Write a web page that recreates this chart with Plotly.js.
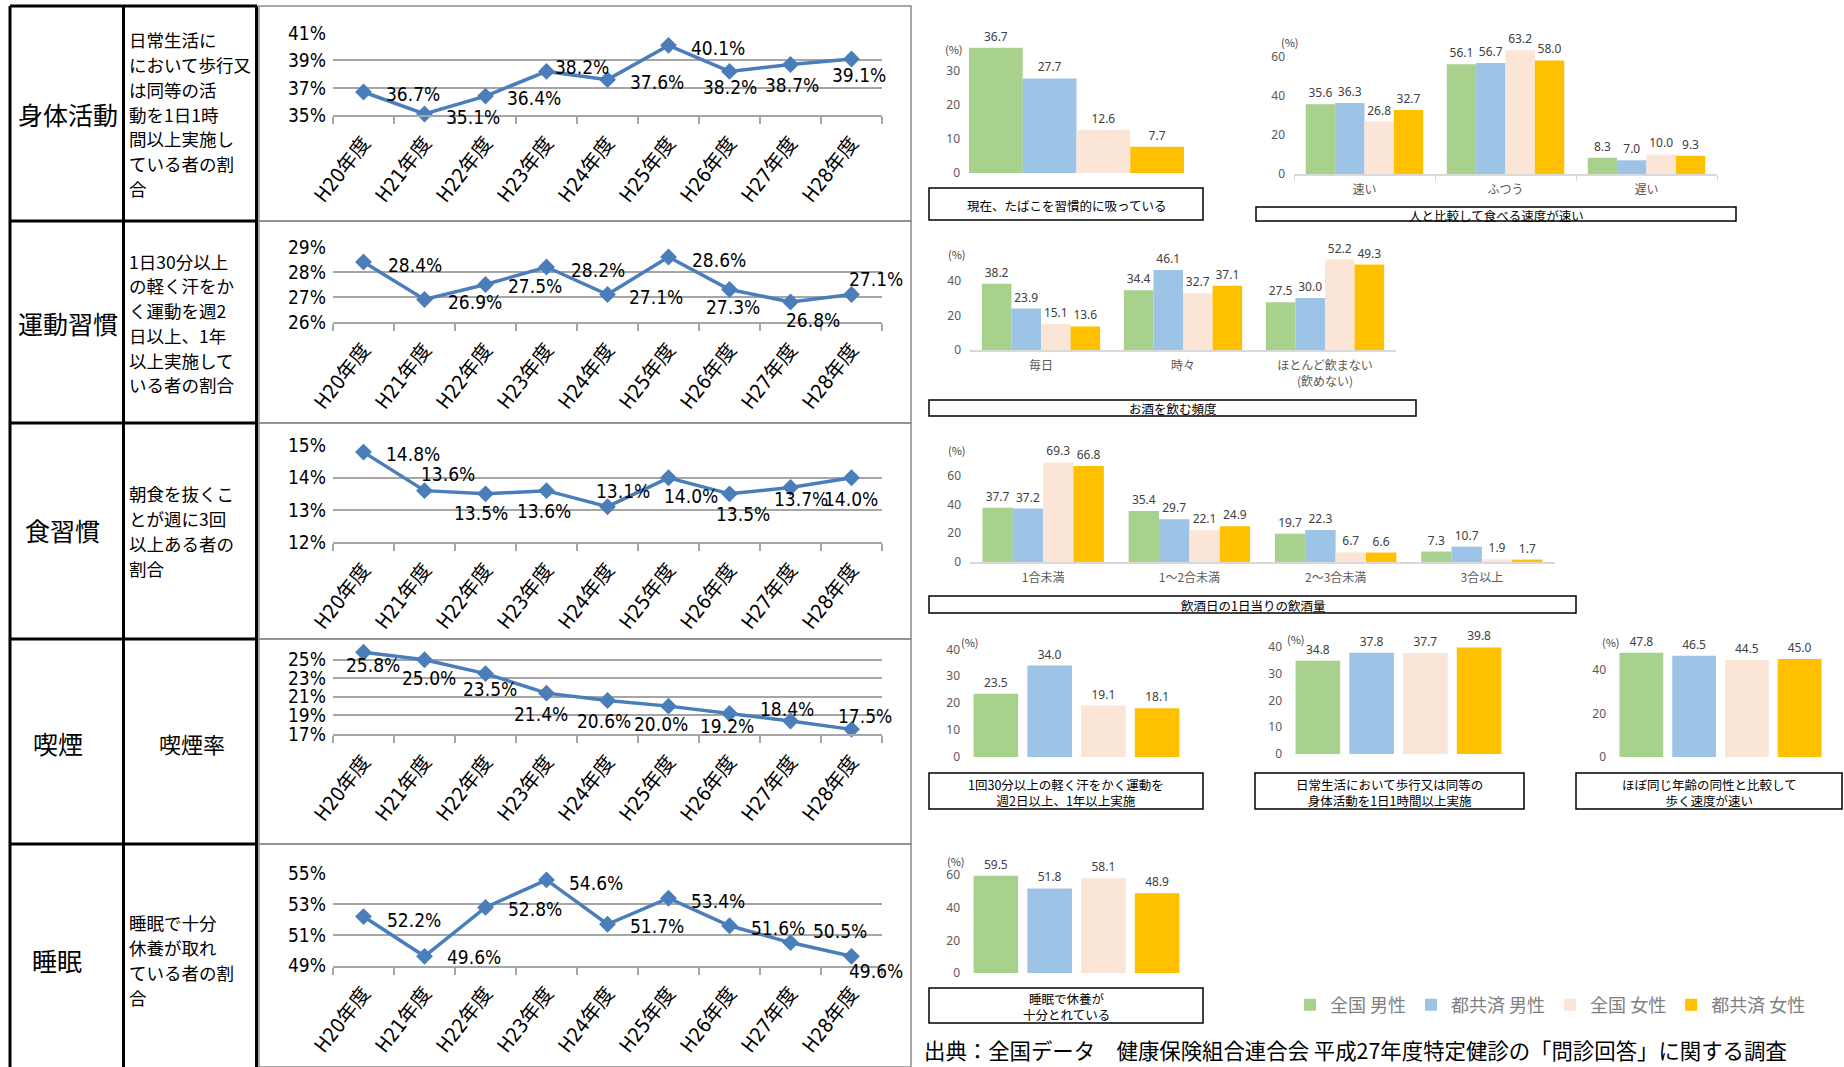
<!DOCTYPE html>
<html><head><meta charset="utf-8">
<script src="https://cdn.plot.ly/plotly-3.0.1.min.js"></script>
<style>html,body{margin:0;padding:0;background:#fff;}#chart{width:1844px;height:1067px;}</style>
</head><body><div id="chart"></div>
<script>
// ---------------- DATA ----------------
const years = ['H20年度','H21年度','H22年度','H23年度','H24年度','H25年度','H26年度','H27年度','H28年度'];
const walkRate = [36.7, 35.1, 36.4, 38.2, 37.6, 40.1, 38.2, 38.7, 39.1];
const exerciseRate = [28.4, 26.9, 27.5, 28.2, 27.1, 28.6, 27.3, 26.8, 27.1];
const skipBreakfastRate = [14.8, 13.6, 13.5, 13.6, 13.1, 14.0, 13.5, 13.7, 14.0];
const smokingRate = [25.8, 25.0, 23.5, 21.4, 20.6, 20.0, 19.2, 18.4, 17.5];
const sleepRate = [52.2, 49.6, 52.8, 54.6, 51.7, 53.4, 51.6, 50.5, 49.6];

const rowLabels = ['身体活動', '運動習慣', '食習慣', '喫煙', '睡眠'];
const rowDescriptions = [
  ['日常生活に', 'において歩行又', 'は同等の活', '動を1日1時', '間以上実施し', 'ている者の割', '合'],
  ['1日30分以上', 'の軽く汗をか', 'く運動を週2', '日以上、1年', '以上実施して', 'いる者の割合'],
  ['朝食を抜くこ', 'とが週に3回', '以上ある者の', '割合'],
  ['喫煙率'],
  ['睡眠で十分', '休養が取れ', 'ている者の割', '合']
];

const groups = ['全国 男性', '都共済 男性', '全国 女性', '都共済 女性'];

const smokingNowCats = ['現在、たばこを習慣的に吸っている'];
const smokingNow = [[36.7], [27.7], [12.6], [7.7]];

const eatSpeedCats = ['速い', 'ふつう', '遅い'];
const eatSpeedTitle = '人と比較して食べる速度が速い';
const eatSpeed = [[35.6, 56.1, 8.3], [36.3, 56.7, 7.0], [26.8, 63.2, 10.0], [32.7, 58.0, 9.3]];

const drinkFreqCats = ['毎日', '時々', 'ほとんど飲まない<br>(飲めない)'];
const drinkFreqTitle = 'お酒を飲む頻度';
const drinkFreq = [[38.2, 34.4, 27.5], [23.9, 46.1, 30.0], [15.1, 32.7, 52.2], [13.6, 37.1, 49.3]];

const drinkAmountCats = ['1合未満', '1～2合未満', '2～3合未満', '3合以上'];
const drinkAmountTitle = '飲酒日の1日当りの飲酒量';
const drinkAmount = [[37.7, 35.4, 19.7, 7.3], [37.2, 29.7, 22.3, 10.7], [69.3, 22.1, 6.7, 1.9], [66.8, 24.9, 6.6, 1.7]];

const exerciseCats = ['1回30分以上の軽く汗をかく運動を<br>週2日以上、1年以上実施'];
const exercise = [[23.5], [34.0], [19.1], [18.1]];

const walkingCats = ['日常生活において歩行又は同等の<br>身体活動を1日1時間以上実施'];
const walking = [[34.8], [37.8], [37.7], [39.8]];

const walkSpeedCats = ['ほぼ同じ年齢の同性と比較して<br>歩く速度が速い'];
const walkSpeed = [[47.8], [46.5], [44.5], [45.0]];

const sleepCats = ['睡眠で休養が<br>十分とれている'];
const sleep = [[59.5], [51.8], [58.1], [48.9]];

const sourceText = '出典：全国データ　健康保険組合連合会 平成27年度特定健診の「問診回答」に関する調査';

// ---------------- STYLE ----------------
const W = 1844, H = 1067;
const px = v => v / W;
const py = v => 1 - v / H;
const JP = '"Noto Sans CJK JP", sans-serif';
const NARROW = '"Liberation Sans Narrow", "DejaVu Sans Condensed", "Noto Sans CJK JP", sans-serif';
const NUM = '"Noto Sans", "Noto Sans CJK JP", sans-serif';
const colors = ['#A9D18E', '#9DC3E6', '#FBE5D6', '#FFC000'];
const lineColor = '#4A7EBB';
const gridColor = '#A6A6A6';

const data = [];
const layout = {
  width: W, height: H, margin: {l: 0, r: 0, t: 0, b: 0},
  paper_bgcolor: '#fff', plot_bgcolor: 'rgba(0,0,0,0)',
  barmode: 'overlay', showlegend: true,
  legend: {orientation: 'h', x: px(1290), y: py(1005), xanchor: 'left', yanchor: 'middle',
           font: {family: JP, size: 18, color: '#7F7F7F'}, itemwidth: 30, traceorder: 'normal',
           bgcolor: 'rgba(0,0,0,0)'},
  shapes: [], annotations: []
};

// ---------------- LINE CHARTS ----------------
const lineSeries = [walkRate, exerciseRate, skipBreakfastRate, smokingRate, sleepRate];
// label centre offsets from each point, in pixels (dx right, dy down)
const lineSpecs = [
  {y0: 115.3, y1: 33,    r: [35, 41], tv: [35, 37, 39, 41],
   off: [[49,2],[48,3],[48,2],[35,-4],[49,2],[49,3],[0,16],[1,20],[7,16]]},
  {y0: 322,   y1: 247,   r: [26, 29], tv: [26, 27, 28, 29],
   off: [[51,3],[50,2],[49,1],[51,3],[48,2],[50,3],[3,17],[22,18],[24,-16]]},
  {y0: 542,   y1: 445.7, r: [12, 15], tv: [12, 13, 14, 15],
   off: [[49,2],[23,-17],[-5,19],[-3,20],[15,-16],[22,18],[13,20],[10,12],[-1,21]]},
  {y0: 734,   y1: 650.4, r: [17, 26], tv: [17, 19, 21, 23, 25],
   off: [[9,13],[4,18],[4,15],[-6,21],[-4,20],[-8,18],[-3,12],[-4,-12],[13,-13]]},
  {y0: 965.5, y1: 873.8, r: [49, 55], tv: [49, 51, 53, 55],
   off: [[50,3],[49,1],[49,2],[49,3],[49,2],[49,3],[48,2],[49,-12],[24,15]]}
];
lineSpecs.forEach((s, i) => {
  const k = i + 1, sfx = (k === 1 ? '' : String(k));
  data.push({
    type: 'scatter', mode: 'lines+markers', x: years, y: lineSeries[i],
    xaxis: 'x' + sfx, yaxis: 'y' + sfx,
    line: {color: lineColor, width: 3.5}, marker: {symbol: 'diamond', size: 13, color: lineColor},
    cliponaxis: false, showlegend: false, hoverinfo: 'skip'
  });
  lineSeries[i].forEach((v, j) => layout.annotations.push({
    xref: 'x' + sfx, yref: 'y' + sfx, x: years[j], y: v, text: v.toFixed(1) + '%', showarrow: false,
    xanchor: 'center', yanchor: 'middle', xshift: s.off[j][0], yshift: -s.off[j][1],
    font: {family: NARROW, size: 19, color: '#000'}
  }));
  layout['xaxis' + sfx] = {domain: [px(333), px(882)], anchor: 'y' + sfx, type: 'category',
    range: [-0.5, 8.5], showgrid: false, showline: true, linecolor: gridColor, linewidth: 2,
    ticks: 'outside', tickson: 'boundaries', ticklen: 7, tickcolor: gridColor, tickwidth: 1.5,
    tickangle: -52, ticklabelstandoff: 6, tickfont: {family: NARROW, size: 20, color: '#000'}, zeroline: false, fixedrange: true};
  layout['yaxis' + sfx] = {domain: [py(s.y0), py(s.y1)], anchor: 'x' + sfx, range: s.r,
    tickvals: s.tv, ticktext: s.tv.map(t => t + '%'), showgrid: true, gridcolor: gridColor, gridwidth: 2,
    zeroline: false, showline: false, ticks: '', ticklabelstandoff: 6,
    tickfont: {family: NARROW, size: 19, color: '#000'}, fixedrange: true};
});

// ---------------- BAR CHARTS ----------------
const barSpecs = [
  {cats: smokingNowCats, vals: smokingNow, x0: 969, x1: 1184, y0: 173, y1: 36.5, r: [0, 40], tv: [0, 10, 20, 30], gf: 1.0, bf: 1.0, line: false, legend: true},
  {cats: eatSpeedCats, vals: eatSpeed, x0: 1294, x1: 1717, y0: 174, y1: 37, r: [0, 70], tv: [0, 20, 40, 60], gf: 0.833, bf: 1.0, line: true, ticks: true},
  {cats: drinkFreqCats, vals: drinkFreq, x0: 970, x1: 1396, y0: 350, y1: 246, r: [0, 60], tv: [0, 20, 40], gf: 0.833, bf: 1.0, line: true},
  {cats: drinkAmountCats, vals: drinkAmount, x0: 970, x1: 1555, y0: 562, y1: 447, r: [0, 80], tv: [0, 20, 40, 60], gf: 0.83, bf: 1.0, line: true},
  {cats: exerciseCats, vals: exercise, x0: 969, x1: 1184, y0: 757, y1: 644, r: [0, 42], tv: [0, 10, 20, 30, 40], gf: 1.0, bf: 0.83, line: false},
  {cats: walkingCats, vals: walking, x0: 1291, x1: 1506, y0: 754, y1: 641.6, r: [0, 42], tv: [0, 10, 20, 30, 40], gf: 1.0, bf: 0.83, line: false},
  {cats: walkSpeedCats, vals: walkSpeed, x0: 1615, x1: 1826, y0: 757, y1: 648, r: [0, 50], tv: [0, 20, 40], gf: 1.0, bf: 0.83, line: false},
  {cats: sleepCats, vals: sleep, x0: 969, x1: 1184, y0: 973, y1: 858.7, r: [0, 70], tv: [0, 20, 40, 60], gf: 1.0, bf: 0.83, line: false}
];
barSpecs.forEach((s, j) => {
  const k = j + 6;
  const slot = s.gf / 4, w = slot * s.bf;
  s.vals.forEach((v, i) => {
    data.push({
      type: 'bar', x: s.cats, y: v, xaxis: 'x' + k, yaxis: 'y' + k, name: groups[i],
      marker: {color: colors[i], line: {width: 0}}, width: w, offset: -s.gf / 2 + i * slot + (slot - w) / 2,
      text: v.map(n => n.toFixed(1)), textposition: 'outside', constraintext: 'none', cliponaxis: false,
      textfont: {family: NUM, size: 12, color: '#404040'},
      showlegend: !!s.legend, legendgroup: groups[i], hoverinfo: 'skip'
    });
  });
  layout['xaxis' + k] = {domain: [px(s.x0), px(s.x1)], anchor: 'y' + k, type: 'category',
    range: [-0.5, s.cats.length - 0.5], showgrid: false, zeroline: false,
    showline: s.line, linecolor: '#D9D9D9', linewidth: 1.5,
    showticklabels: s.cats.length > 1, ticks: s.ticks ? 'outside' : '', tickson: 'boundaries', ticklen: 5, tickcolor: '#D9D9D9',
    ticklabelstandoff: 4, tickfont: {family: JP, size: 12, color: '#595959'}, fixedrange: true};
  layout['yaxis' + k] = {domain: [py(s.y0), py(s.y1)], anchor: 'x' + k, range: s.r, tickvals: s.tv,
    showgrid: false, zeroline: false, showline: false, ticks: '', ticklabelstandoff: 8,
    tickfont: {family: NUM, size: 12, color: '#595959'}, fixedrange: true};
});

// ---------------- TABLE / FRAMES ----------------
const line = (x0, y0, x1, y1, color, width) => ({type: 'line', xref: 'paper', yref: 'paper',
  x0: px(x0), y0: py(y0), x1: px(x1), y1: py(y1), line: {color: color, width: width}});
const rect = (x0, y0, x1, y1, color, width) => ({type: 'rect', xref: 'paper', yref: 'paper',
  x0: px(x0), y0: py(y0), x1: px(x1), y1: py(y1), line: {color: color, width: width}, fillcolor: 'rgba(0,0,0,0)'});
const rowEdges = [6, 221, 423, 639, 844, 1067];
for (let r = 0; r < 5; r++) layout.shapes.push(rect(259, rowEdges[r], 911, rowEdges[r + 1], '#8C8C8C', 1.5));
[10, 123.5, 256.5].forEach(x => layout.shapes.push(line(x, 6, x, 1067, '#000', 3)));
rowEdges.slice(0, 5).forEach(y => layout.shapes.push(line(10, y, 257, y, '#000', 3)));

const ann = (x, y, text, o) => Object.assign({xref: 'paper', yref: 'paper', x: px(x), y: py(y), text: text,
  showarrow: false, xanchor: 'center', yanchor: 'middle'}, o || {});
const labelPos = [[68, 114], [68, 323], [63, 530], [58, 743], [57, 960]];
rowLabels.forEach((t, i) => layout.annotations.push(ann(labelPos[i][0], labelPos[i][1], t,
  {font: {family: JP, size: 25, color: '#000'}})));
const descCenters = [114, 323, 531, 743, 960];
const descLineH = 24.7;
rowDescriptions.forEach((lines, i) => {
  lines.forEach((t, j) => {
    const y = descCenters[i] + (j - (lines.length - 1) / 2) * descLineH;
    if (lines.length === 1) {
      layout.annotations.push(ann(192, y, t, {font: {family: JP, size: 22, color: '#000'}}));
    } else {
      layout.annotations.push(ann(127, y, t, {xanchor: 'left', font: {family: JP, size: 17.5, color: '#000'}}));
    }
  });
});

// captions
const captions = [
  [smokingNowCats[0], 929, 188, 1203, 220],
  [eatSpeedTitle, 1256, 207, 1736, 221],
  [drinkFreqTitle, 929, 400, 1416, 416],
  [drinkAmountTitle, 929, 596, 1576, 613],
  [exerciseCats[0], 929, 773, 1203, 809],
  [walkingCats[0], 1255, 773, 1524, 809],
  [walkSpeedCats[0], 1576, 773, 1842, 809],
  [sleepCats[0], 929, 988, 1203, 1023]
];
captions.forEach(c => {
  layout.shapes.push(rect(c[1], c[2], c[3], c[4], '#000', 1.5));
  layout.annotations.push(ann((c[1] + c[3]) / 2, (c[2] + c[4]) / 2 + 1, c[0],
    {font: {family: JP, size: 12.5, color: '#000'}, align: 'center'}));
});

// (%) unit labels
[[954, 49], [1290, 42], [957, 254], [957, 450], [970, 642], [1296, 639], [1611, 642], [956, 861]].forEach(p =>
  layout.annotations.push(ann(p[0], p[1], '(%)', {font: {family: JP, size: 11, color: '#404040'}})));

layout.annotations.push(ann(922, 1049, sourceText, {xanchor: 'left', font: {family: JP, size: 21.4, color: '#000'}}));

Plotly.newPlot('chart', data, layout, {staticPlot: true, displayModeBar: false});
</script></body></html>
